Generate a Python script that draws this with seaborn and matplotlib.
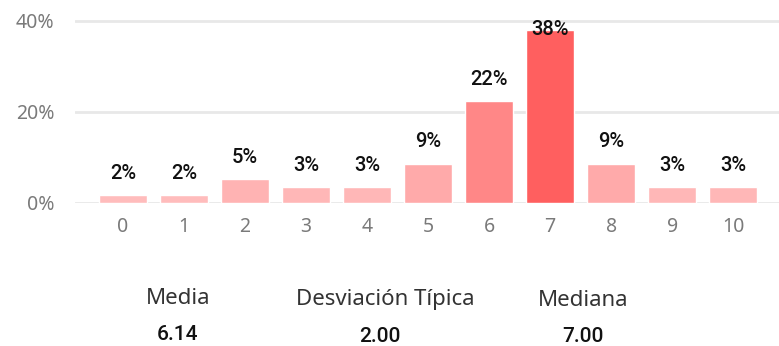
import numpy as np
import pandas as pd
import matplotlib
matplotlib.use("Agg")
import matplotlib.pyplot as plt
from matplotlib.colors import LinearSegmentedColormap, Normalize
import seaborn as sns

# Score distribution (number of answers per score)
scores = ["0", "1", "2", "3", "4", "5", "6", "7", "8", "9", "10"]
counts = [1, 1, 3, 2, 2, 5, 13, 22, 5, 2, 2]
stat_names = ["Media", "Desviación Típica", "Mediana"]

score_vals = np.arange(len(scores))
counts_arr = np.array(counts)
pct = counts_arr / counts_arr.sum() * 100

# Summary statistics drawn under the chart
expanded = np.repeat(score_vals, counts_arr)
stat_values = [expanded.mean(), expanded.std(), np.median(expanded)]

sns.set_theme(style="white")
plt.rcParams["font.family"] = ["Noto Sans", "DejaVu Sans"]
BOLD_FONT = ["Roboto", "DejaVu Sans"]

df = pd.DataFrame({"score": scores, "pct": pct})

# Bar colour grows stronger with the share of answers
cmap = LinearSegmentedColormap.from_list("reds", ["#FFC0C0", "#FF5F5F"])
norm = Normalize(vmin=0, vmax=pct.max())
palette = {s: cmap(norm(p)) for s, p in zip(scores, pct)}

fig = plt.figure(figsize=(7.79, 3.46), dpi=100)
ax = fig.add_axes([75 / 779, 1 - 203 / 346, 1 - 75 / 779, 193 / 346])

sns.barplot(data=df, x="score", y="pct", hue="score", palette=palette,
            order=scores, hue_order=scores, legend=False, width=0.785,
            saturation=1, ax=ax, zorder=3)

ax.set_xlim(-0.785, 10.75)
ax.set_ylim(0, 42.4)
ax.set_yticks([0, 20, 40])
ax.set_yticklabels(["0%", "20%", "40%"])
ax.set_xlabel("")
ax.set_ylabel("")
for y in [0, 20, 40]:
    ax.axhline(y, color="#E8E8E8", lw=2, zorder=1)
for s in ax.spines.values():
    s.set_visible(False)
ax.tick_params(axis="both", length=0, colors="#7A7A7A", labelsize=14)
ax.tick_params(axis="x", pad=10)
ax.tick_params(axis="y", pad=15)

# Value labels above bars, kept inside the plotting area
label_y = np.minimum(pct + 4.8, 38.2)
for i, (p, ly) in enumerate(zip(pct, label_y)):
    ax.text(i, ly, f"{p:.0f}%", ha="center", va="center", fontsize=14.5,
            family=BOLD_FONT, fontweight="medium", color="#111111", zorder=4)

# Summary statistics block
name_pos = [(178, 298), (385, 299), (583, 300)]
val_pos = [(177, 335), (380, 336), (583, 337)]
for name, val, (nx, ny), (vx, vy) in zip(stat_names, stat_values, name_pos, val_pos):
    fig.text(nx / 779, 1 - ny / 346, name, ha="center", va="center",
             fontsize=16, color="#333333")
    fig.text(vx / 779, 1 - vy / 346, f"{val:.2f}", ha="center", va="center",
             fontsize=15, family=BOLD_FONT, fontweight="medium", color="#111111")

fig.savefig("out.png", dpi=100, facecolor="white")
